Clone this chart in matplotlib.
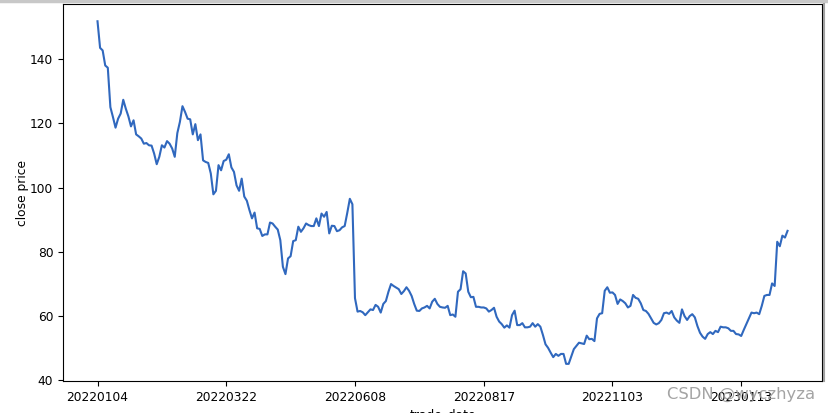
import matplotlib
matplotlib.use("Agg")
import matplotlib.pyplot as plt
from matplotlib.lines import Line2D

# close prices, one per trading day
close = [
    151.9, 143.6, 142.8, 138.1, 137.4, 125.1, 122.0, 118.7, 121.5, 123.1,
    127.4, 124.6, 122.2, 119.1, 121.0, 116.6, 116.0, 115.3, 113.7, 113.9,
    113.2, 113.1, 110.6, 107.3, 109.6, 113.2, 112.5, 114.5, 113.7, 112.2,
    109.6, 117.0, 120.5, 125.4, 123.6, 121.5, 121.3, 116.6, 119.8, 114.8,
    116.6, 108.5, 108.0, 107.7, 104.4, 97.9, 99.0, 107.0, 105.4, 108.3,
    108.7, 110.4, 106.3, 104.9, 100.7, 99.0, 102.8, 97.2, 95.9, 93.0,
    90.4, 92.2, 87.3, 87.1, 84.9, 85.4, 85.4, 89.1, 88.8, 87.8,
    86.9, 83.6, 75.3, 73.0, 77.9, 78.6, 83.3, 83.6, 87.8, 86.2,
    87.3, 88.8, 88.3, 88.0, 88.0, 90.4, 88.0, 91.9, 90.9, 92.4,
    85.7, 88.1, 88.0, 86.4, 86.7, 87.6, 88.0, 92.1, 96.5, 94.8,
    65.5, 61.3, 61.5, 61.1, 60.2, 61.1, 62.0, 61.8, 63.4, 62.8,
    61.0, 63.7, 64.6, 67.5, 69.9, 69.3, 68.8, 68.3, 66.8, 67.7,
    68.9, 67.8, 66.2, 63.7, 61.6, 61.5, 62.3, 62.6, 63.1, 62.3,
    64.4, 65.3, 63.7, 62.8, 62.6, 62.5, 63.1, 60.2, 60.4, 59.7,
    67.5, 68.3, 73.9, 73.2, 67.5, 65.8, 65.9, 62.8, 62.8, 62.6,
    62.6, 62.3, 61.3, 61.8, 62.5, 59.7, 58.2, 57.4, 56.3, 57.0,
    56.3, 60.2, 61.6, 57.1, 57.1, 57.7, 56.4, 56.4, 56.6, 57.7,
    56.6, 57.4, 56.6, 54.0, 51.1, 50.0, 48.5, 47.1, 48.1, 47.5,
    48.1, 48.1, 45.0, 45.0, 47.3, 49.6, 50.6, 51.6, 51.4, 51.2,
    53.8, 52.7, 52.8, 52.1, 59.2, 60.6, 60.8, 67.8, 68.9, 67.2,
    67.3, 66.5, 63.7, 65.1, 64.6, 63.9, 62.6, 63.1, 66.5, 65.6,
    65.3, 63.9, 61.8, 61.5, 60.6, 59.2, 57.8, 57.3, 57.7, 58.7,
    60.8, 61.0, 60.6, 61.5, 59.5, 58.5, 57.8, 62.0, 59.9, 58.7,
    59.9, 60.5, 59.5, 56.8, 54.7, 53.5, 52.8, 54.3, 54.9, 54.3,
    55.3, 54.9, 56.6, 56.4, 56.4, 56.1, 55.3, 55.3, 54.3, 54.2,
    53.7, 55.6, 57.4, 59.2, 61.0, 60.8, 61.0, 60.5, 63.1, 66.2,
    66.5, 66.5, 70.1, 69.3, 83.1, 81.7, 85.0, 84.4, 86.5,
]

# trade_date labels shown on the axis, one every 50 trading days
tick_labels = ["20220104", "20220322", "20220608", "20220817", "20221103", "20230113"]
tick_step = 50

fs = 8.8

fig = plt.figure(figsize=(8.29, 4.13), dpi=100)
ax = fig.add_axes([0.076, 0.0775, 0.9156, 0.9125])

ax.plot(range(len(close)), close, color="#3068be", linewidth=1.5)

ax.set_xticks([i * tick_step for i in range(len(tick_labels))])
ax.set_xticklabels(tick_labels, fontsize=fs)
ax.tick_params(axis="y", labelsize=fs)
ax.tick_params(axis="both", length=3.5, width=0.8)
ax.set_xlabel("trade_date", fontsize=fs, labelpad=3)
ax.set_ylabel("close price", fontsize=fs, labelpad=1)

# screenshot border bits
fig.add_artist(Line2D([0, 1], [0.997, 0.997], color="#c8c8c8", linewidth=2.5, transform=fig.transFigure))
fig.add_artist(Line2D([0.9935, 0.9935], [0.0775, 0.99], color="#a0a0a0", linewidth=1.5, transform=fig.transFigure))

# watermark
fig.text(0.805, 0.035, "CSDN @wyczhyza", color="#9a9a9a", fontsize=11.8, alpha=0.9)

fig.savefig("out.png", dpi=100)
